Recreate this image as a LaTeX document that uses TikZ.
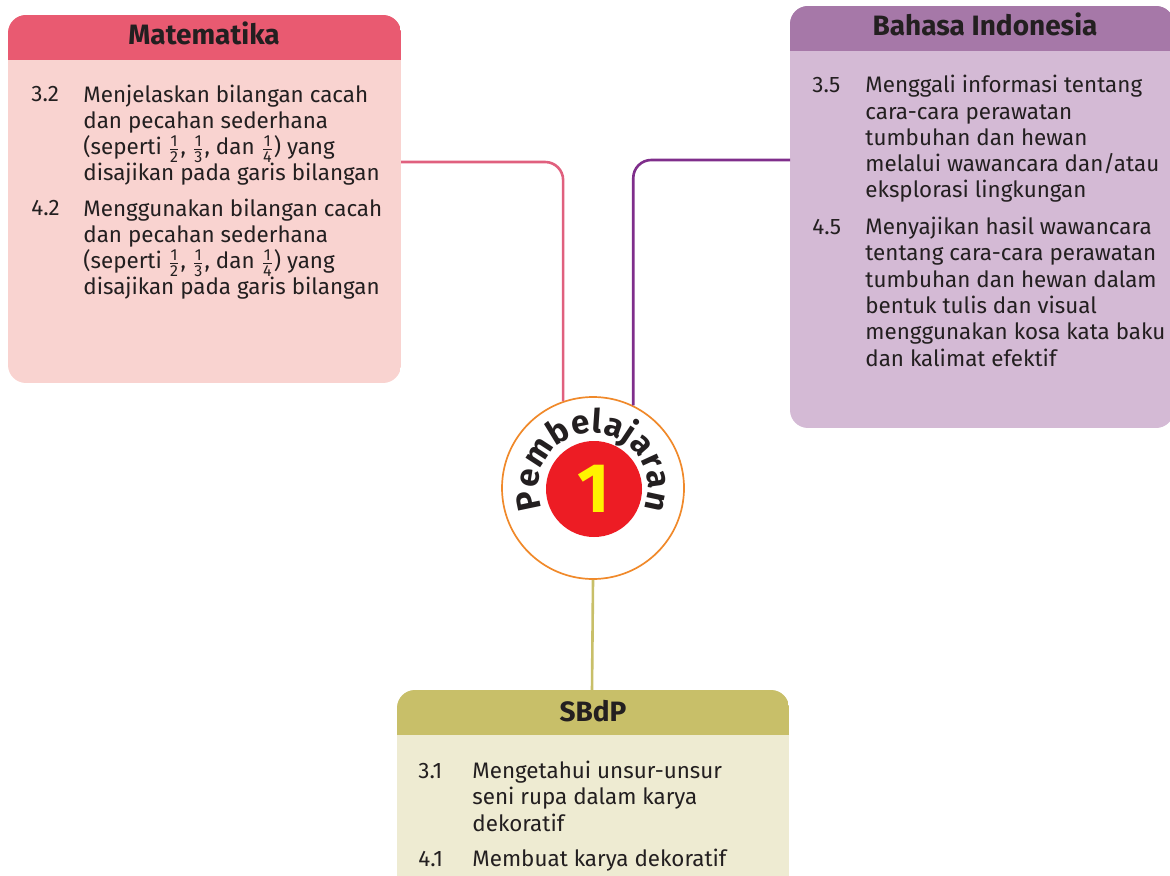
\documentclass[tikz,border=0pt]{standalone}
\usepackage{fontspec}
\setmainfont{Fira Sans}
\usetikzlibrary{decorations.text}

\definecolor{matkepala}{HTML}{E95A71}
\definecolor{matisi}{HTML}{F9D3D0}
\definecolor{matgaris}{HTML}{E0607E}
\definecolor{bikepala}{HTML}{A678A8}
\definecolor{biisi}{HTML}{D4BAD5}
\definecolor{bigaris}{HTML}{7F2E8B}
\definecolor{sbkepala}{HTML}{C8BF69}
\definecolor{sbisi}{HTML}{EEEBD2}
\definecolor{sbgaris}{HTML}{C8BF69}
\definecolor{lingkaran}{HTML}{F0892A}
\definecolor{merah}{HTML}{ED1C24}
\definecolor{kuning}{HTML}{FFF200}
\definecolor{teksgelap}{HTML}{231F20}

\newcommand{\pch}[2]{\smash{$\frac{\mbox{\footnotesize #1}}{\mbox{\footnotesize #2}}$}}

\begin{document}
\begin{tikzpicture}[x=0.5pt,y=0.5pt,
  teks/.style={font=\fontsize{11.2}{13.15}\selectfont,anchor=base west,align=left,inner sep=0pt,text=teksgelap},
  judul/.style={font=\bfseries\fontsize{14}{16}\selectfont,anchor=base,inner sep=0pt,text=teksgelap},
  garis/.style={line width=1.3pt,rounded corners=9pt}]
\useasboundingbox (0,0) rectangle (1170,-876);

%kotak Matematika
\begin{scope}
\clip[rounded corners=9pt](8,-15)rectangle(401,-383);
\fill[matisi](8,-15)rectangle(401,-383); %isi
\fill[matkepala](8,-15)rectangle(401,-60); %kepala
\end{scope}

%kotak Bahasa Indonesia
\begin{scope}
\clip[rounded corners=9pt](790,-6)rectangle(1174,-428);
\fill[biisi](790,-6)rectangle(1174,-428); %isi
\fill[bikepala](790,-6)rectangle(1174,-51); %kepala
\end{scope}

%kotak SBdP
\begin{scope}
\clip[rounded corners=9pt](397,-690)rectangle(789,-900);
\fill[sbisi](397,-690)rectangle(789,-900); %isi
\fill[sbkepala](397,-690)rectangle(789,-735); %kepala
\end{scope}

%titik sambung
\coordinate (matR) at (401,-162);
\coordinate (biL) at (790,-160);
\coordinate (sbT) at (592,-690);

%lingkaran tengah
\node[circle,draw=lingkaran,line width=0.85pt,fill=white,minimum size=91pt,inner sep=0pt] (pb) at (593,-488) {};
\node[circle,fill=merah,minimum size=48pt,inner sep=0pt,text=kuning,font=\bfseries\fontsize{35}{35}\selectfont] (satu) at (594,-489) {1};
\path[decorate,decoration={text along path,text align=fit to path,
  text={|\color{teksgelap}\bfseries\fontsize{16.5}{16.5}\selectfont|Pembelajaran}}]
  (pb.center) ++(202:27.5pt) arc[start angle=202,end angle=-22,radius=27.5pt];

%garis
\draw[garis,matgaris](matR) -| (pb.109);
\draw[garis,bigaris](biL) -| (pb.64);
\draw[garis,sbgaris](pb.south) -- (sbT);

%judul
\node[judul] (matjudul) at (204,-45) {Matematika};
\node[judul] (bijudul) at (985,-36) {Bahasa Indonesia};
\node[judul] (sbjudul) at (593,-721) {SBdP};

%isi Matematika (base = baris terakhir)
\node[teks] (m32no) at (31,-102) {3.2};
\node[teks] (m32) at (83,-181) {Menjelaskan bilangan cacah\\dan pecahan sederhana\\(seperti \pch12, \pch13, dan \pch14) yang\\disajikan pada garis bilangan};
\node[teks] (m42no) at (31,-216) {4.2};
\node[teks] (m42) at (83,-295) {Menggunakan bilangan cacah\\dan pecahan sederhana\\(seperti \pch12, \pch13, dan \pch14) yang\\disajikan pada garis bilangan};

%isi Bahasa Indonesia
\node[teks] (b35no) at (812,-93) {3.5};
\node[teks] (b35) at (865,-198) {Menggali informasi tentang\\cara-cara perawatan\\tumbuhan dan hewan\\melalui wawancara dan/atau\\eksplorasi lingkungan};
\node[teks] (b45no) at (812,-235) {4.5};
\node[teks] (b45) at (865,-366) {Menyajikan hasil wawancara\\tentang cara-cara perawatan\\tumbuhan dan hewan dalam\\bentuk tulis dan visual\\menggunakan kosa kata baku\\dan kalimat efektif};

%isi SBdP
\node[teks] (s31no) at (418,-778) {3.1};
\node[teks] (s31) at (472,-831) {Mengetahui unsur-unsur\\seni rupa dalam karya\\dekoratif};
\node[teks] (s41no) at (418,-866) {4.1};
\node[teks] (s41) at (472,-866) {Membuat karya dekoratif};
\end{tikzpicture}
\end{document}
